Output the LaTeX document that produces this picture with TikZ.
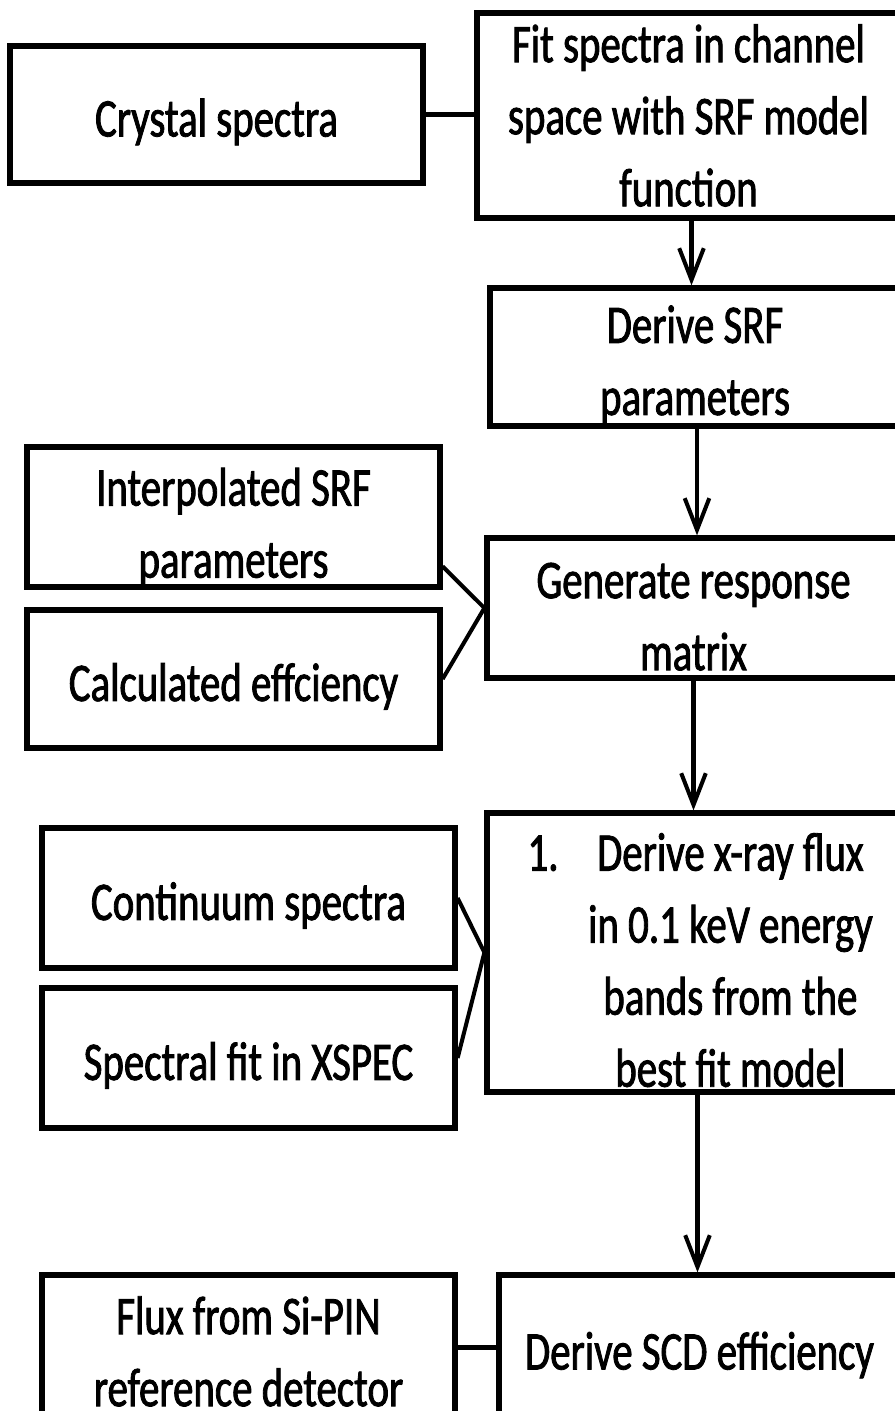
\documentclass[tikz,border=0pt]{standalone}
\usepackage{fontspec}
\setmainfont{Carlito}[FakeStretch=0.75,FakeBold=1.5]
\usetikzlibrary{arrows.meta,calc}
\newcommand{\ind}{\hspace*{42pt}}
\newcommand{\tp}[1][30pt]{\rule{0pt}{#1}}
\begin{document}
\begin{tikzpicture}[x=0.02cm,y=-0.02cm,
   >={Straight Barb[length=18pt,width=14pt,line width=2.3pt]},
   box/.style={draw,line width=3pt,inner sep=0pt,align=center,
     minimum width=8.26cm,minimum height=2.8cm,
     font=\fontsize{31}{41}\selectfont},
   link/.style={line width=2.3pt}]
   \useasboundingbox (0,0) rectangle (895,1411);
   \clip (0,0) rectangle (895,1411);
   %left column
   \node[box,minimum height=2.74cm] (crys) at (216.5,114.5) {\tp Crystal spectra};
   \node[box] (interp) at (233.5,517) {\tp[33pt]Interpolated SRF\\parameters};
   \node[box,minimum height=2.76cm] (calc) at (233.5,679) {\tp Calculated effciency};
   \node[box] (cont) at (248.5,898) {\tp Continuum spectra};
   \node[box] (xspec) at (248.5,1058) {\tp Spectral fit in XSPEC};
   \node[box,minimum height=2.9cm] (sipin) at (248.5,1347.5) {\tp[26pt]Flux from Si-PIN\\reference detector};
   %right column
   \node[box,minimum width=8.46cm,minimum height=4.1cm] (fit) at (688.5,115.5)
      {Fit spectra in channel\\space with SRF model\\function};
   \node[box,minimum width=8.2cm,minimum height=2.76cm] (srf) at (695,357) {\tp Derive SRF\\parameters};
   \node[box] (resp) at (693.5,608) {\tp Generate response\\matrix};
   \node[box,minimum height=5.58cm] (flux) at (693.5,952.5)
      {\tp\ind\llap{1.\hspace{22pt}}Derive x-ray flux\\\ind in 0.1 keV energy\\\ind bands from the\\\ind best fit model};
   \node[box,minimum width=8.02cm,minimum height=2.9cm] (scd) at (699.5,1347.5) {\tp Derive SCD efficiency};
   %links
   \draw[link] (crys.east) -- (crys.east -| fit.west);
   \draw[link] ($(interp.south east)!0.16!(interp.north east)$) -- (resp.west);
   \draw[link] (calc.east) -- (resp.west);
   \draw[link] (cont.east) -- (flux.west);
   \draw[link] (xspec.east) -- (flux.west);
   \draw[link] (sipin.east) -- (sipin.east -| scd.west);
   %arrows
   \draw[link,->] ($(fit.south)+(3,0)$) -- ($(fit.south |- srf.north)+(3,0)$);
   \draw[link,->] ($(srf.south)+(2,0)$) -- ($(srf.south |- resp.north)+(2,0)$);
   \draw[link,->] (resp.south) -- (resp.south |- flux.north);
   \draw[link,->] ($(flux.south)+(4,0)$) -- ($(flux.south |- scd.north)+(4,0)$);
\end{tikzpicture}
\end{document}
